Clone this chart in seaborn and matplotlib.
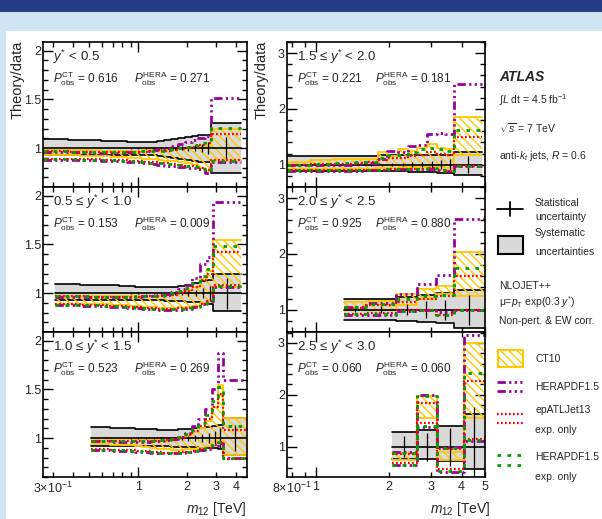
import numpy as np
import matplotlib
matplotlib.use("Agg")
import matplotlib.pyplot as plt
import seaborn as sns
from matplotlib.patches import Rectangle
from matplotlib.lines import Line2D
from matplotlib.ticker import FixedLocator, FuncFormatter, MultipleLocator, NullFormatter

# ---------------- data ----------------
P1_EDGES = [0.26, 0.31, 0.37, 0.44, 0.51, 0.59, 0.67, 0.76, 0.85, 0.95, 1.06, 1.18, 1.31, 1.45, 1.60, 1.76, 1.94, 2.13, 2.34, 2.58, 2.79, 4.27]
P1_SYS_UP = [1.09,1.09,1.085,1.08,1.08,1.075,1.07,1.07,1.065,1.06,1.06,1.065,1.07,1.08,1.09,1.10,1.11,1.12,1.13,1.13,1.26]
P1_SYS_DN = [0.93,0.93,0.93,0.93,0.93,0.93,0.93,0.93,0.93,0.93,0.93,0.925,0.92,0.91,0.90,0.89,0.88,0.87,0.86,0.86,0.74]
P1_STAT = [0.002,0.002,0.002,0.002,0.003,0.003,0.004,0.004,0.005,0.006,0.007,0.008,0.010,0.012,0.015,0.020,0.025,0.035,0.045,0.060,0.11]
P1_CT10_LO = [0.93,0.93,0.925,0.92,0.92,0.915,0.91,0.905,0.90,0.895,0.89,0.885,0.88,0.87,0.865,0.86,0.85,0.83,0.80,0.76,0.88]
P1_CT10_HI = [0.985,0.985,0.98,0.98,0.98,0.975,0.975,0.975,0.975,0.975,0.98,0.98,0.985,0.99,0.99,1.0,1.0,1.01,1.02,1.02,1.20]
P1_HERA_LO = [0.88,0.88,0.88,0.875,0.875,0.87,0.87,0.865,0.86,0.855,0.85,0.84,0.83,0.82,0.82,0.81,0.80,0.80,0.78,0.74,0.86]
P1_HERA_HI = [0.96,0.96,0.955,0.955,0.95,0.95,0.95,0.95,0.955,0.96,0.97,0.98,0.99,1.0,1.02,1.04,1.06,1.08,1.10,1.12,1.51]
P1_EPATL_LO = [0.89,0.89,0.89,0.885,0.885,0.88,0.88,0.875,0.87,0.865,0.86,0.855,0.85,0.845,0.84,0.83,0.82,0.82,0.80,0.77,0.88]
P1_EPATL_HI = [0.965,0.965,0.96,0.96,0.96,0.955,0.955,0.955,0.955,0.96,0.96,0.965,0.97,0.97,0.98,0.99,1.0,1.01,1.03,1.05,1.14]
P1_HERAEXP_LO = [0.885,0.885,0.885,0.88,0.88,0.875,0.875,0.87,0.865,0.86,0.855,0.85,0.845,0.84,0.835,0.83,0.82,0.81,0.79,0.76,0.87]
P1_HERAEXP_HI = [0.965,0.965,0.96,0.96,0.96,0.96,0.955,0.955,0.96,0.96,0.965,0.97,0.975,0.98,0.99,1.0,1.01,1.03,1.05,1.08,1.21]

P2_EDGES = [0.31, 0.37, 0.44, 0.51, 0.59, 0.67, 0.76, 0.85, 0.95, 1.06, 1.18, 1.31, 1.45, 1.60, 1.76, 1.94, 2.13, 2.40, 2.65, 2.90, 4.27]
P2_SYS_UP = [1.09,1.09,1.085,1.085,1.08,1.08,1.075,1.07,1.065,1.06,1.06,1.06,1.06,1.065,1.07,1.08,1.10,1.12,1.13,1.20]
P2_SYS_DN = [0.93,0.93,0.93,0.93,0.93,0.93,0.93,0.93,0.93,0.93,0.93,0.925,0.92,0.92,0.915,0.91,0.91,0.90,0.89,0.82]
P2_STAT = [0.002,0.002,0.002,0.003,0.003,0.004,0.004,0.005,0.006,0.007,0.008,0.010,0.012,0.015,0.020,0.025,0.035,0.050,0.070,0.16]
P2_CT10_LO = [0.89,0.89,0.89,0.885,0.885,0.88,0.875,0.87,0.865,0.86,0.855,0.85,0.85,0.85,0.855,0.86,0.87,0.90,0.93,1.06]
P2_CT10_HI = [0.975,0.975,0.975,0.97,0.97,0.97,0.97,0.97,0.97,0.97,0.97,0.975,0.98,0.99,1.0,1.02,1.06,1.14,1.23,1.55]
P2_HERA_LO = [0.875,0.875,0.87,0.87,0.865,0.86,0.855,0.85,0.845,0.84,0.835,0.83,0.83,0.83,0.83,0.84,0.86,0.89,0.92,1.06]
P2_HERA_HI = [0.96,0.96,0.96,0.955,0.955,0.955,0.955,0.955,0.96,0.965,0.97,0.98,0.99,1.01,1.04,1.08,1.15,1.30,1.37,1.94]
P2_EPATL_LO = [0.885,0.885,0.88,0.88,0.875,0.87,0.865,0.86,0.855,0.85,0.845,0.84,0.84,0.84,0.845,0.85,0.86,0.89,0.92,1.08]
P2_EPATL_HI = [0.965,0.965,0.965,0.96,0.96,0.96,0.96,0.96,0.96,0.965,0.965,0.97,0.975,0.985,1.0,1.02,1.06,1.13,1.20,1.42]
P2_HERAEXP_LO = [0.88,0.88,0.88,0.875,0.87,0.865,0.86,0.855,0.85,0.845,0.84,0.835,0.835,0.835,0.84,0.845,0.86,0.89,0.92,1.07]
P2_HERAEXP_HI = [0.965,0.965,0.965,0.96,0.96,0.96,0.96,0.96,0.965,0.97,0.97,0.975,0.985,1.0,1.02,1.05,1.10,1.18,1.25,1.48]

P3_EDGES = [0.51, 0.59, 0.67, 0.76, 0.85, 0.95, 1.06, 1.18, 1.31, 1.45, 1.60, 1.76, 1.94, 2.13, 2.34, 2.58, 2.85, 3.10, 3.32, 4.67]
P3_SYS_UP = [1.11,1.11,1.105,1.10,1.10,1.095,1.09,1.09,1.085,1.085,1.085,1.09,1.09,1.10,1.10,1.11,1.12,1.13,1.21]
P3_SYS_DN = [0.92,0.92,0.92,0.92,0.92,0.92,0.92,0.92,0.915,0.915,0.91,0.91,0.91,0.905,0.90,0.90,0.895,0.89,0.83]
P3_STAT = [0.003,0.003,0.004,0.004,0.005,0.006,0.007,0.008,0.010,0.012,0.015,0.020,0.025,0.030,0.040,0.050,0.070,0.10,0.13]
P3_CT10_LO = [0.935,0.935,0.93,0.93,0.925,0.92,0.91,0.90,0.89,0.885,0.88,0.88,0.885,0.89,0.90,0.92,0.96,1.0,0.83]
P3_CT10_HI = [1.0,1.0,0.995,0.995,0.99,0.99,0.99,0.99,0.99,0.99,1.0,1.01,1.03,1.06,1.10,1.18,1.32,1.55,1.21]
P3_HERA_LO = [0.875,0.875,0.87,0.87,0.865,0.86,0.855,0.85,0.845,0.845,0.845,0.85,0.86,0.87,0.88,0.89,0.92,0.95,0.80]
P3_HERA_HI = [0.965,0.965,0.96,0.96,0.96,0.96,0.96,0.965,0.97,0.98,0.99,1.01,1.05,1.12,1.20,1.30,1.50,1.87,1.60]
P3_EPATL_LO = [0.885,0.885,0.88,0.88,0.875,0.87,0.865,0.86,0.855,0.85,0.85,0.855,0.86,0.87,0.885,0.90,0.93,0.96,0.78]
P3_EPATL_HI = [0.975,0.975,0.97,0.97,0.97,0.97,0.97,0.97,0.975,0.98,0.99,1.0,1.03,1.07,1.12,1.20,1.32,1.45,1.08]
P3_HERAEXP_LO = [0.88,0.88,0.875,0.875,0.87,0.865,0.86,0.855,0.85,0.845,0.845,0.85,0.86,0.87,0.88,0.90,0.93,0.96,0.80]
P3_HERAEXP_HI = [0.975,0.975,0.97,0.97,0.97,0.97,0.97,0.975,0.98,0.985,0.995,1.01,1.04,1.09,1.15,1.24,1.38,1.52,1.12]

P4_EDGES = [0.76, 0.85, 0.95, 1.06, 1.18, 1.31, 1.45, 1.60, 1.80, 1.96, 2.18, 2.40, 2.62, 2.87, 3.16, 3.42, 3.73, 4.85]
P4_SYS_UP = [1.16,1.16,1.16,1.16,1.16,1.16,1.16,1.16,1.165,1.165,1.17,1.17,1.17,1.175,1.18,1.18,1.23]
P4_SYS_DN = [0.88,0.88,0.88,0.88,0.88,0.88,0.88,0.88,0.88,0.88,0.88,0.875,0.875,0.87,0.86,0.86,0.82]
P4_STAT = [0.005,0.005,0.006,0.007,0.008,0.010,0.012,0.015,0.020,0.025,0.030,0.040,0.050,0.060,0.080,0.10,0.15]
P4_CT10_LO = [0.92,0.92,0.92,0.92,0.925,0.93,0.93,0.93,0.94,0.94,0.95,0.95,0.96,0.97,0.96,0.94,1.18]
P4_CT10_HI = [1.04,1.04,1.08,1.08,1.10,1.10,1.10,1.10,1.22,1.15,1.28,1.25,1.30,1.38,1.30,1.28,1.85]
P4_HERA_LO = [0.89,0.89,0.89,0.89,0.89,0.89,0.895,0.90,0.90,0.91,0.92,0.92,0.92,0.93,0.90,0.88,0.97]
P4_HERA_HI = [0.99,0.99,1.0,1.0,1.0,1.0,1.01,1.03,1.10,1.24,1.22,1.33,1.35,1.55,1.57,1.55,2.44]
P4_EPATL_LO = [0.90,0.90,0.90,0.90,0.90,0.90,0.905,0.91,0.91,0.92,0.93,0.93,0.93,0.94,0.91,0.88,0.98]
P4_EPATL_HI = [1.0,1.0,1.01,1.01,1.02,1.02,1.03,1.04,1.08,1.12,1.12,1.15,1.18,1.22,1.20,1.18,1.50]
P4_HERAEXP_LO = [0.90,0.90,0.90,0.90,0.90,0.90,0.90,0.91,0.91,0.92,0.93,0.93,0.93,0.94,0.91,0.89,0.98]
P4_HERAEXP_HI = [1.0,1.0,1.01,1.02,1.03,1.03,1.04,1.05,1.12,1.18,1.18,1.22,1.28,1.30,1.28,1.25,1.63]

P5_EDGES = [1.31, 1.61, 2.15, 2.62, 3.13, 3.72, 5.0]
P5_SYS_UP = [1.20, 1.20, 1.22, 1.26, 1.30, 1.35]
P5_SYS_DN = [0.82, 0.81, 0.80, 0.78, 0.76, 0.68]
P5_STAT = [0.04, 0.06, 0.10, 0.15, 0.18, 0.27]
P5_CT10_LO = [1.0, 1.0, 1.09, 1.20, 1.29, 1.25]
P5_CT10_HI = [1.13, 1.16, 1.29, 1.38, 1.43, 2.03]
P5_HERA_LO = [0.90, 0.91, 0.97, 1.0, 0.95, 1.0]
P5_HERA_HI = [1.05, 1.12, 1.28, 1.46, 1.63, 2.62]
P5_EPATL_LO = [0.93, 0.94, 0.99, 1.0, 0.90, 1.0]
P5_EPATL_HI = [1.03, 1.08, 1.14, 1.20, 1.24, 1.61]
P5_HERAEXP_LO = [0.92, 0.93, 0.98, 1.0, 0.91, 1.0]
P5_HERAEXP_HI = [1.04, 1.10, 1.20, 1.24, 1.27, 1.74]

P6_EDGES = [2.06, 2.61, 3.16, 4.09, 5.0]
P6_SYS_UP = [1.29, 1.33, 1.40, 1.63]
P6_SYS_DN = [0.77, 0.77, 0.72, 0.57]
P6_STAT = [0.20, 0.27, 0.37, 0.77]
P6_CT10_LO = [0.75, 1.55, 0.75, 1.55]
P6_CT10_HI = [0.88, 1.97, 0.90, 3.0]
P6_HERA_LO = [0.65, 1.38, 0.52, 1.12]
P6_HERA_HI = [0.90, 1.99, 1.0, 3.15]
P6_EPATL_LO = [0.68, 1.45, 0.57, 1.16]
P6_EPATL_HI = [0.86, 1.85, 0.95, 2.27]
P6_HERAEXP_LO = [0.66, 1.40, 0.54, 1.13]
P6_HERAEXP_HI = [0.88, 1.97, 0.98, 2.42]

RAPIDITY_LABELS = ["$y^{*}$ < 0.5", "0.5 \u2264 $y^{*}$ < 1.0", "1.0 \u2264 $y^{*}$ < 1.5",
                   "1.5 \u2264 $y^{*}$ < 2.0", "2.0 \u2264 $y^{*}$ < 2.5", "2.5 \u2264 $y^{*}$ < 3.0"]
P_OBS_CT = ["0.616", "0.153", "0.523", "0.221", "0.925", "0.060"]
P_OBS_HERA = ["0.271", "0.009", "0.269", "0.181", "0.880", "0.060"]

LEFT_XTICKS = {0.3: "3\u00d710$^{-1}$", 2: "2", 3: "3", 4: "4"}
RIGHT_XTICKS = {0.8: "8\u00d710$^{-1}$", 2: "2", 3: "3", 4: "4", 5: "5"}

# ---------------- style ----------------
sns.set_style("ticks")
plt.rcParams["font.family"] = ["Liberation Sans", "DejaVu Sans"]
plt.rcParams["mathtext.fontset"] = "custom"
plt.rcParams["mathtext.rm"] = "Liberation Sans"
plt.rcParams["mathtext.it"] = "Liberation Sans:italic"
plt.rcParams["mathtext.bf"] = "Liberation Sans:bold"
plt.rcParams["hatch.linewidth"] = 1.0

C_GRAY = "#d9d9d9"
C_CT10 = "#ffc800"
C_HERA = "#990099"
C_EPATL = "#ff0000"
C_HEXP = "#00a000"
LS_HERA = (0, (3, 1.2, 0.8, 1.2, 0.8, 1.2, 0.8, 1.2))
LS_EPATL = (0, (0.8, 1.0))
LS_HEXP = (0, (1.3, 2.3))
HATCH = "\\\\\\\\"

W, H = 602, 519
fig = plt.figure(figsize=(W / 100, H / 100), dpi=100)
fig.patch.set_facecolor("#cfe5f3")
fig.add_artist(Rectangle((0, 1 - 12 / H), 1, 12 / H, transform=fig.transFigure,
                         facecolor="#243b8a", edgecolor="none", zorder=-5))
fig.add_artist(Rectangle((6 / W, 0), 1 - 6 / W, (H - 31) / H, transform=fig.transFigure,
                         facecolor="white", edgecolor="none", zorder=-5))


def fx(x):
    return x / W


def fy(y):
    return 1 - y / H


def step(ax, edges, vals, **kw):
    x = np.asarray(edges, float)
    y = np.append(np.asarray(vals, float), vals[-1])
    sns.lineplot(x=x, y=y, ax=ax, drawstyle="steps-post", estimator=None,
                 sort=False, legend=False, **kw)


def band(ax, edges, lo, hi, **kw):
    x = np.asarray(edges, float)
    ax.fill_between(x, np.append(lo, lo[-1]), np.append(hi, hi[-1]), step="post", **kw)


PANELS = [
    (P1_EDGES, P1_SYS_UP, P1_SYS_DN, P1_STAT, P1_CT10_LO, P1_CT10_HI, P1_HERA_LO, P1_HERA_HI,
     P1_EPATL_LO, P1_EPATL_HI, P1_HERAEXP_LO, P1_HERAEXP_HI),
    (P2_EDGES, P2_SYS_UP, P2_SYS_DN, P2_STAT, P2_CT10_LO, P2_CT10_HI, P2_HERA_LO, P2_HERA_HI,
     P2_EPATL_LO, P2_EPATL_HI, P2_HERAEXP_LO, P2_HERAEXP_HI),
    (P3_EDGES, P3_SYS_UP, P3_SYS_DN, P3_STAT, P3_CT10_LO, P3_CT10_HI, P3_HERA_LO, P3_HERA_HI,
     P3_EPATL_LO, P3_EPATL_HI, P3_HERAEXP_LO, P3_HERAEXP_HI),
    (P4_EDGES, P4_SYS_UP, P4_SYS_DN, P4_STAT, P4_CT10_LO, P4_CT10_HI, P4_HERA_LO, P4_HERA_HI,
     P4_EPATL_LO, P4_EPATL_HI, P4_HERAEXP_LO, P4_HERAEXP_HI),
    (P5_EDGES, P5_SYS_UP, P5_SYS_DN, P5_STAT, P5_CT10_LO, P5_CT10_HI, P5_HERA_LO, P5_HERA_HI,
     P5_EPATL_LO, P5_EPATL_HI, P5_HERAEXP_LO, P5_HERAEXP_HI),
    (P6_EDGES, P6_SYS_UP, P6_SYS_DN, P6_STAT, P6_CT10_LO, P6_CT10_HI, P6_HERA_LO, P6_HERA_HI,
     P6_EPATL_LO, P6_EPATL_HI, P6_HERAEXP_LO, P6_HERAEXP_HI),
]

COLS = [(43, 247), (287, 485)]
ROWS = [(42, 187), (187, 332), (332, 477)]
XLIMS = [(0.26, 4.67), (0.76, 5.0)]
YLIMS = [(0.6, 2.09), (0.6, 2.09), (0.6, 2.09), (0.6, 3.2), (0.6, 3.2), (0.42, 3.21)]

for i, spec in enumerate(PANELS):
    (edges, sup, sdn, stat, ctlo, cthi, hlo, hhi, elo, ehi, xlo, xhi) = spec
    col, row = i // 3, i % 3
    x0, x1 = COLS[col]
    y0, y1 = ROWS[row]
    ax = fig.add_axes([fx(x0), fy(y1), (x1 - x0) / W, (y1 - y0) / H])
    ax.set_xscale("log")

    # systematic band
    band(ax, edges, sdn, sup, facecolor=C_GRAY, edgecolor="none", linewidth=0, zorder=1)
    step(ax, edges, sup, color="k", linewidth=1.2, zorder=2)
    step(ax, edges, sdn, color="k", linewidth=1.2, zorder=2)
    # CT10 hatched band
    band(ax, edges, ctlo, cthi, facecolor="none", edgecolor=C_CT10, hatch=HATCH,
         linewidth=0, zorder=3)
    step(ax, edges, cthi, color=C_CT10, linewidth=1.3, zorder=3)
    step(ax, edges, ctlo, color=C_CT10, linewidth=1.3, zorder=3)
    # data: central value and statistical errors
    ones = np.ones(len(sup))
    step(ax, edges, ones, color="k", linewidth=1.2, zorder=4)
    e = np.asarray(edges, float)
    centers = np.sqrt(e[:-1] * e[1:])
    ax.vlines(centers, 1 - np.asarray(stat), 1 + np.asarray(stat), color="k",
              linewidth=0.9, zorder=4)
    # theory variants
    for lo, hi, c, ls, lw, z in [(hlo, hhi, C_HERA, LS_HERA, 2.0, 5),
                                 (elo, ehi, C_EPATL, LS_EPATL, 1.6, 6),
                                 (xlo, xhi, C_HEXP, LS_HEXP, 2.0, 7)]:
        step(ax, edges, hi, color=c, linestyle=ls, linewidth=lw, zorder=z)
        step(ax, edges, lo, color=c, linestyle=ls, linewidth=lw, zorder=z)

    ax.set_xlim(*XLIMS[col])
    ax.set_ylim(*YLIMS[i])
    ax.set_xlabel("")
    ax.set_ylabel("")

    # x ticks (ROOT-like log axis)
    xt = LEFT_XTICKS if col == 0 else RIGHT_XTICKS
    lo_x, hi_x = XLIMS[col]
    minors = [v * d for d in (0.1, 1.0) for v in range(2, 10) if lo_x <= v * d <= hi_x]
    ax.xaxis.set_major_locator(FixedLocator([1.0]))
    ax.xaxis.set_minor_locator(FixedLocator(minors))
    ax.xaxis.set_major_formatter(FuncFormatter(lambda v, p: "1"))
    ax.xaxis.set_minor_formatter(FuncFormatter(
        lambda v, p, xt=xt: next((lab for k, lab in xt.items() if abs(k - v) < 1e-6), "")))

    # y ticks
    if col == 0:
        ax.yaxis.set_major_locator(FixedLocator([1.0, 1.5, 2.0]))
        ax.yaxis.set_minor_locator(MultipleLocator(0.1))
    else:
        ax.yaxis.set_major_locator(FixedLocator([1.0, 2.0, 3.0]))
        ax.yaxis.set_minor_locator(MultipleLocator(0.2))
    ax.yaxis.set_major_formatter(FuncFormatter(lambda v, p: f"{v:g}"))
    ax.yaxis.set_minor_formatter(NullFormatter())

    ax.tick_params(which="both", direction="in", top=True, right=True,
                   color="k", width=1.0, labelsize=9)
    ax.tick_params(axis="y", which="both", pad=1.5)
    ax.tick_params(axis="x", which="both", pad=3)
    ax.tick_params(which="major", length=7)
    ax.tick_params(which="minor", length=3.5)
    if row != 2:
        ax.tick_params(which="both", labelbottom=False)
    for s in ax.spines.values():
        s.set_linewidth(1.2)
        s.set_color("k")
        s.set_zorder(10)

    ax.text(0.05, 0.868, RAPIDITY_LABELS[i], transform=ax.transAxes, fontsize=9.5,
            va="baseline", ha="left", zorder=12)
    ax.text(0.05, 0.72, "$P^{\\rm CT}_{\\rm obs}$ = " + P_OBS_CT[i], transform=ax.transAxes,
            fontsize=8.5, va="baseline", ha="left", zorder=12)
    ax.text(0.445, 0.72, "$P^{\\rm HERA}_{\\rm obs}$ = " + P_OBS_HERA[i], transform=ax.transAxes,
            fontsize=8.5, va="baseline", ha="left", zorder=12)

# axis titles
fig.text(fx(18), fy(41), "Theory/data", rotation=90, ha="center", va="top", fontsize=10.5)
fig.text(fx(262), fy(41), "Theory/data", rotation=90, ha="center", va="top", fontsize=10.5)
fig.text(fx(247), fy(513), "$m_{12}$ [TeV]", ha="right", va="baseline", fontsize=10)
fig.text(fx(491), fy(513), "$m_{12}$ [TeV]", ha="right", va="baseline", fontsize=10)

# right-hand annotations and legend
LX, TX = 499, 535
fig.text(fx(LX), fy(81), "ATLAS", fontsize=10, fontweight="bold", fontstyle="italic",
         va="baseline")
fig.text(fx(LX), fy(104), "$\\int L$ dt = 4.5 fb$^{-1}$", fontsize=7.5, va="baseline")
fig.text(fx(LX), fy(133), "$\\sqrt{s}$ = 7 TeV", fontsize=7.5, va="baseline")
fig.text(fx(LX), fy(159), "anti-$k_{t}$ jets, $R$ = 0.6", fontsize=7.5, va="baseline")

fig.add_artist(Line2D([fx(497), fx(523)], [fy(209), fy(209)], color="k", lw=1.3))
fig.add_artist(Line2D([fx(510), fx(510)], [fy(202), fy(216)], color="k", lw=1.3))
fig.text(fx(TX), fy(206), "Statistical", fontsize=7.5, va="baseline")
fig.text(fx(TX), fy(220), "uncertainty", fontsize=7.5, va="baseline")

fig.add_artist(Rectangle((fx(498), fy(254)), 25 / W, 18 / H, transform=fig.transFigure,
                         facecolor=C_GRAY, edgecolor="k", linewidth=1.5))
fig.text(fx(TX), fy(236), "Systematic", fontsize=7.5, va="baseline")
fig.text(fx(TX), fy(255), "uncertainties", fontsize=7.5, va="baseline")

fig.text(fx(LX), fy(289), "NLOJET++", fontsize=7.5, va="baseline")
fig.text(fx(LX), fy(306), "\u03bc=$p_{\\rm T}$ exp(0.3 $y^{*}$)", fontsize=7.5, va="baseline")
fig.text(fx(LX), fy(324), "Non-pert. & EW corr.", fontsize=7.5, va="baseline")

fig.add_artist(Rectangle((fx(498), fy(367)), 25 / W, 17 / H, transform=fig.transFigure,
                         facecolor="none", edgecolor=C_CT10, hatch=HATCH, linewidth=1.5))
fig.text(fx(TX), fy(362), "CT10", fontsize=7.5, va="baseline")

for yy in (382, 391):
    fig.add_artist(Line2D([fx(497), fx(523)], [fy(yy), fy(yy)], color=C_HERA, lw=2.0,
                          linestyle=LS_HERA))
fig.text(fx(TX), fy(390), "HERAPDF1.5", fontsize=7.5, va="baseline")

for yy in (414, 423):
    fig.add_artist(Line2D([fx(497), fx(523)], [fy(yy), fy(yy)], color=C_EPATL, lw=1.6,
                          linestyle=LS_EPATL))
fig.text(fx(TX), fy(413), "epATLJet13", fontsize=7.5, va="baseline")
fig.text(fx(TX), fy(433), "exp. only", fontsize=7.5, va="baseline")

for yy in (455, 465):
    fig.add_artist(Line2D([fx(497), fx(523)], [fy(yy), fy(yy)], color=C_HEXP, lw=2.0,
                          linestyle=LS_HEXP))
fig.text(fx(TX), fy(460), "HERAPDF1.5", fontsize=7.5, va="baseline")
fig.text(fx(TX), fy(480), "exp. only", fontsize=7.5, va="baseline")

fig.savefig("out.png", dpi=100, facecolor=fig.get_facecolor())
